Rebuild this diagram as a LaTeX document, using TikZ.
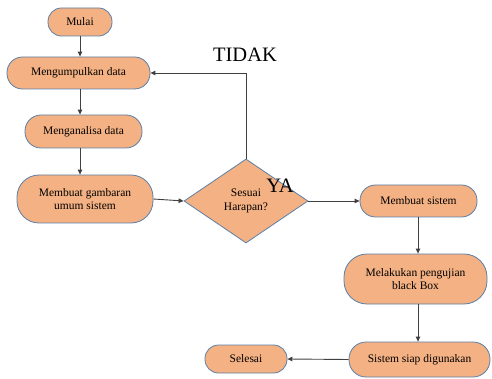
\documentclass[tikz,border=0pt]{standalone}
\usepackage{fontspec}
\setmainfont{Liberation Serif}
\usetikzlibrary{shapes.geometric,arrows.meta}
\definecolor{boxfill}{HTML}{F4B183}
\definecolor{boxline}{HTML}{5B7FA6}
\definecolor{arrowc}{HTML}{404040}
\tikzset{
  term/.style={draw=boxline, line width=0.8pt, fill=boxfill, rounded corners=14pt, inner sep=1pt, align=center, font=\fontsize{11.5}{13.5}\selectfont},
  decision/.style={draw=boxline, line width=0.8pt, fill=boxfill, diamond, inner sep=0pt, align=center, font=\fontsize{11.5}{13.5}\selectfont},
  flow/.style={draw=arrowc, line width=0.9pt, -{Triangle[length=5pt,width=4.5pt]}},
  biglabel/.style={font=\fontsize{20.5}{22}\selectfont, inner sep=0pt}
}
\begin{document}
\begin{tikzpicture}[x=1pt,y=-1pt]
\useasboundingbox (0,0) rectangle (492,379);
\node[term, minimum width=64pt, minimum height=28pt, rounded corners=13.5pt] (mulai) at (80,22) {Mulai};
\node[term, minimum width=143pt, minimum height=32pt, rounded corners=15.5pt] (kumpul) at (78.5,73) {Mengumpulkan data};
\node[term, minimum width=117pt, minimum height=33pt, rounded corners=16pt] (analisa) at (83.5,131.5) {Menganalisa data};
\node[term, minimum width=136pt, minimum height=48pt, rounded corners=22pt] (gambar) at (85,199) {Membuat gambaran\\umum sistem};
\node[decision, minimum width=124pt, minimum height=84pt] (dia) at (246,201) {Sesuai\\Harapan?};
\node[term, minimum width=117pt, minimum height=32pt, rounded corners=15.5pt] (sistem) at (418.5,201) {Membuat sistem};
\node[term, minimum width=143pt, minimum height=50pt, rounded corners=23pt] (uji) at (415.5,279) {Melakukan pengujian\\black Box};
\node[term, minimum width=141pt, minimum height=35pt, rounded corners=17pt] (siap) at (419.5,359.5) {Sistem siap digunakan};
\node[term, minimum width=82pt, minimum height=28pt, rounded corners=13.5pt] (selesai) at (246,359) {Selesai};
\node[biglabel] (tidak) at (245,55) {TIDAK};
\node[biglabel] (ya) at (280,186) {YA};
\draw[flow] (mulai.south -| 80,0) -- (kumpul.north -| 80,0);
\draw[flow] (kumpul.south -| 80,0) -- (analisa.north -| 80,0);
\draw[flow] (analisa.south -| 80,0) -- (gambar.north -| 80,0);
\draw[flow] (gambar.east) -- (dia.west);
\draw[flow] (dia.east) -- (sistem.west);
\draw[flow] (sistem.south -| 418,0) -- (uji.north -| 418,0);
\draw[flow] (uji.south -| 418,0) -- (siap.north -| 418,0);
\draw[flow] (siap.west) -- (selesai.east);
\draw[flow] (dia.north) |- (kumpul.east);
\end{tikzpicture}
\end{document}
